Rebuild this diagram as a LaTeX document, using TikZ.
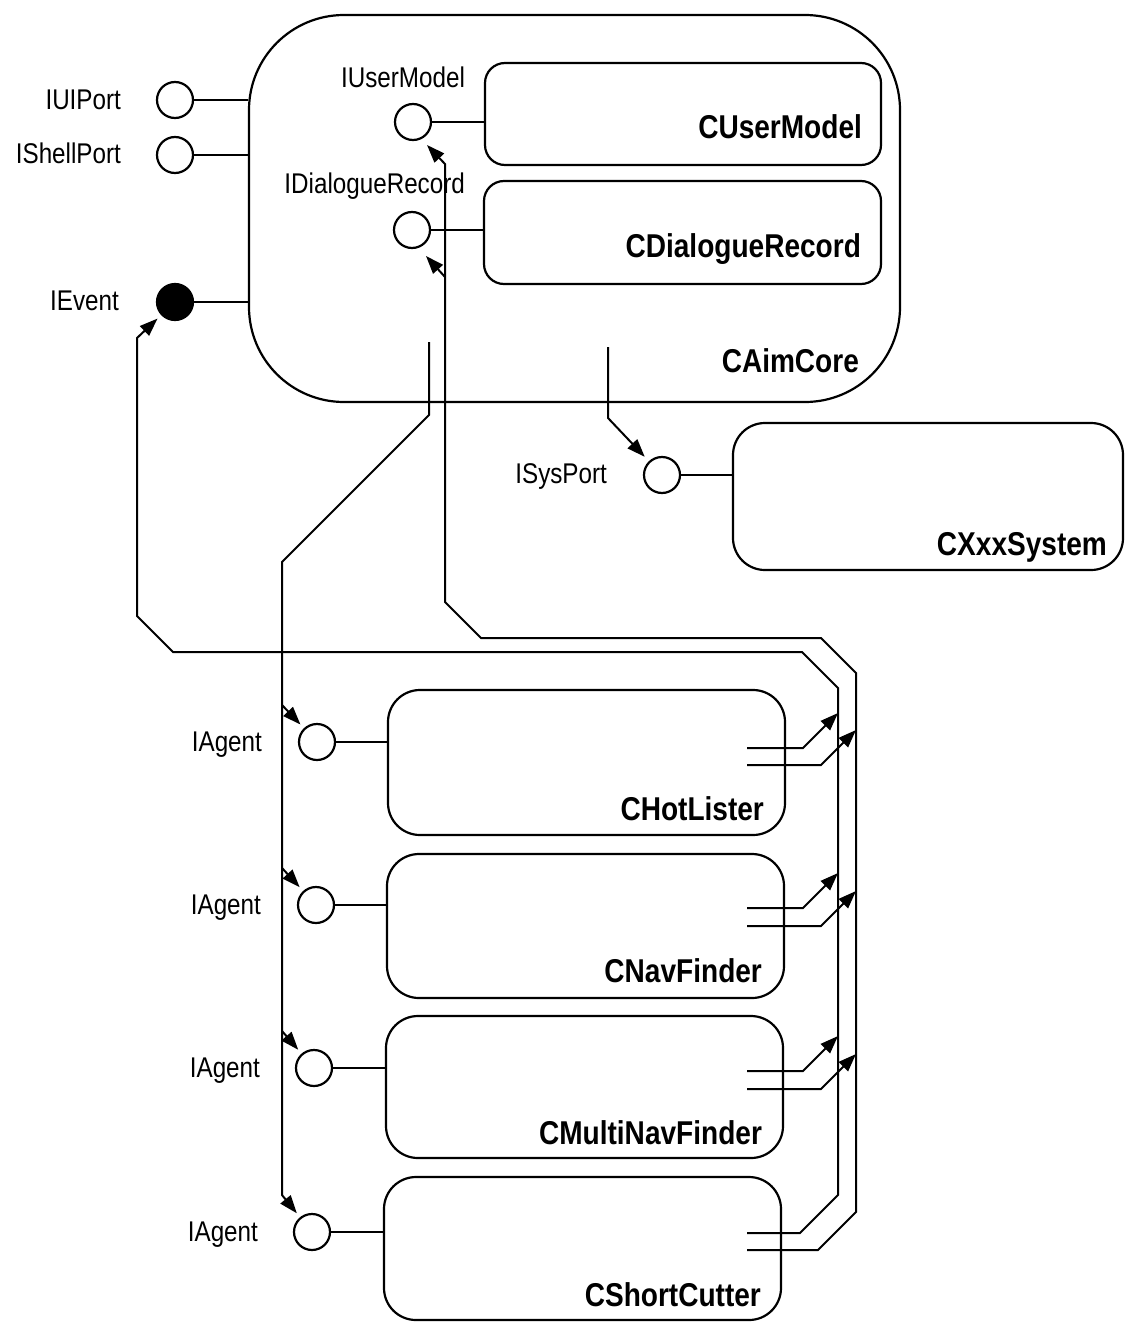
\documentclass[tikz,border=0pt]{standalone}
\usepackage{fontspec}
\setmainfont{Liberation Sans}[FakeStretch=0.85]
\usetikzlibrary{arrows.meta}
\begin{document}
\begin{tikzpicture}[x=1pt,y=-1pt,
  line width=2.2pt,
  comp/.style={draw, rounded corners=#1, inner sep=0pt},
  port/.style={draw, circle, minimum size=36pt, inner sep=0pt, fill=white},
  eport/.style={draw, circle, minimum size=36pt, inner sep=0pt, fill=black},
  plabel/.style={anchor=base east, inner sep=0pt, font=\fontsize{28.5}{30}\selectfont},
  clabel/.style={anchor=base east, inner sep=0pt, font=\fontsize{33}{36}\selectfont\bfseries},
  wire/.style={line width=2pt},
  flow/.style={wire, -{Triangle[length=18pt,width=13pt]}},
]
\useasboundingbox (0,0) rectangle (1125,1322);

% components
\node[comp=95pt, minimum width=651pt, minimum height=387pt] (core) at (574.5,208.5) {};
\node[comp=20pt, minimum width=396pt, minimum height=102pt] (cuser) at (683,114) {};
\node[comp=20pt, minimum width=397pt, minimum height=103pt] (cdlg) at (682.5,232.5) {};
\node[comp=32pt, minimum width=390pt, minimum height=147pt] (csys) at (928,496.5) {};
\node[comp=32pt, minimum width=397pt, minimum height=145pt] (hot) at (586.5,762.5) {};
\node[comp=32pt, minimum width=397pt, minimum height=144pt] (nav) at (585.5,926) {};
\node[comp=32pt, minimum width=397pt, minimum height=142pt] (multi) at (584.5,1087) {};
\node[comp=32pt, minimum width=397pt, minimum height=143pt] (short) at (582.5,1248.5) {};

% component names
\node[clabel] (coreL) at (860,372) {CAimCore};
\node[clabel] (cuserL) at (863,138) {CUserModel};
\node[clabel] (cdlgL) at (862,257) {CDialogueRecord};
\node[clabel] (csysL) at (1108,555) {CXxxSystem};
\node[clabel] (hotL) at (765,820) {CHotLister};
\node[clabel] (navL) at (763,982) {CNavFinder};
\node[clabel] (multiL) at (763,1144) {CMultiNavFinder};
\node[clabel] (shortL) at (762,1306) {CShortCutter};

% interface ports
\node[port] (uiport) at (175,100) {};
\node[port] (shellport) at (175,155) {};
\node[eport] (event) at (175,302) {};
\node[port] (umport) at (413,122) {};
\node[port] (drport) at (412,230) {};
\node[port] (sysport) at (662,475) {};
\node[port] (a1) at (317,742) {};
\node[port] (a2) at (316,905) {};
\node[port] (a3) at (314,1068) {};
\node[port] (a4) at (312,1232) {};

% interface names
\node[plabel] (uiportL) at (122,109) {IUIPort};
\node[plabel] (shellportL) at (122,163) {IShellPort};
\node[plabel] (eventL) at (120,310) {IEvent};
\node[plabel] (umportL) at (466,87) {IUserModel};
\node[plabel] (drportL) at (466,193) {IDialogueRecord};
\node[plabel] (sysportL) at (608,483) {ISysPort};
\node[plabel] (a1L) at (263,751) {IAgent};
\node[plabel] (a2L) at (262,914) {IAgent};
\node[plabel] (a3L) at (261,1077) {IAgent};
\node[plabel] (a4L) at (259,1241) {IAgent};

% ports attached to their components
\draw[wire] (uiport) -- (uiport -| core.west);
\draw[wire] (shellport) -- (shellport -| core.west);
\draw[wire] (event) -- (event -| core.west);
\draw[wire] (umport) -- (umport -| cuser.west);
\draw[wire] (drport) -- (drport -| cdlg.west);
\draw[wire] (sysport) -- (sysport -| csys.west);
\draw[wire] (a1) -- (a1 -| hot.west);
\draw[wire] (a2) -- (a2 -| nav.west);
\draw[wire] (a3) -- (a3 -| multi.west);
\draw[wire] (a4) -- (a4 -| short.west);

% uses: core -> agents
\coordinate (coreAgents) at (429,342);
\draw[flow, shorten >=5pt] (coreAgents) -- (429,415) -- (282,562) -- (282,1195) -- (a4);
\draw[flow, shorten >=5pt] (282,705) -- (a1);
\draw[flow, shorten >=5pt] (282,868) -- (a2);
\draw[flow, shorten >=5pt] (282,1031) -- (a3);

% uses: core -> system
\coordinate (coreSys) at (608,347);
\draw[flow, shorten >=6pt] (coreSys) -- (608,418) -- (sysport);

% agents -> IEvent
\coordinate (shortEv) at (747,1233);
\draw[flow, shorten >=5pt] (shortEv) -- (800,1233) -- (838,1195) -- (838,688)
  -- (802,652) -- (173,652) -- (137,616) -- (137,338) -- (event);
\coordinate (hotEv) at (747,748);
\coordinate (navEv) at (747,908);
\coordinate (multiEv) at (747,1071);
\draw[flow] (hotEv) -- (803,748) -- (838,713);
\draw[flow] (navEv) -- (803,908) -- (838,873);
\draw[flow] (multiEv) -- (803,1071) -- (838,1036);

% agents -> IUserModel / IDialogueRecord
\coordinate (shortUm) at (747,1250);
\coordinate (umTip) at (427,145);
\coordinate (drTip) at (426,256);
\draw[flow] (shortUm) -- (818,1250) -- (856,1212) -- (856,673)
  -- (821,638) -- (481,638) -- (445,602) -- (445,164) -- (umTip);
\draw[flow] (445,277) -- (drTip);
\coordinate (hotUm) at (747,765);
\coordinate (navUm) at (747,926);
\coordinate (multiUm) at (747,1089);
\draw[flow] (hotUm) -- (821,765) -- (856,730);
\draw[flow] (navUm) -- (821,926) -- (856,891);
\draw[flow] (multiUm) -- (821,1089) -- (856,1054);
\end{tikzpicture}
\end{document}
